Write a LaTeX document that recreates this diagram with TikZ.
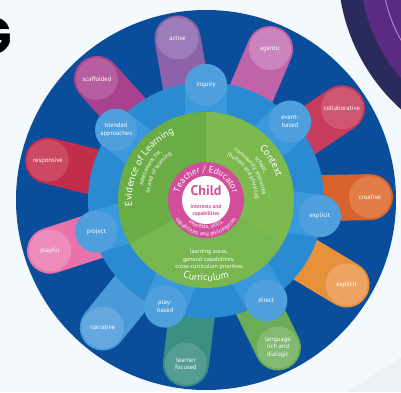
\documentclass[tikz,border=0pt]{standalone}
\usepackage{fontspec}
\setmainfont{PT Sans}
\newfontfamily\headfont{Poppins}
\usepackage{tikz}
\usetikzlibrary{positioning, decorations.text}
\definecolor{bgc}{HTML}{F4F9FD}
\definecolor{cornergray}{HTML}{EDF1F4}
\definecolor{navyc}{HTML}{2B2A5C}
\definecolor{purplec}{HTML}{5B2A82}
\definecolor{purplelt}{HTML}{B89ACF}
\definecolor{darkblue}{HTML}{0A4E9B}
\definecolor{ringblue}{HTML}{2A8BD3}
\definecolor{spokeblue}{HTML}{3A99DC}
\definecolor{innerblue}{HTML}{4E9FDC}
\definecolor{evidc}{HTML}{6BAD45}
\definecolor{ctxc}{HTML}{7CB94E}
\definecolor{currc}{HTML}{78B650}
\definecolor{pinkc}{HTML}{D24E9B}
\definecolor{activec}{HTML}{8D62A9}\definecolor{activelt}{HTML}{9C7DB9}
\definecolor{agenticc}{HTML}{C063A9}\definecolor{agenticlt}{HTML}{CC84BD}
\definecolor{collabc}{HTML}{C73B5C}\definecolor{collablt}{HTML}{CE566F}
\definecolor{creativec}{HTML}{D9622C}\definecolor{creativelt}{HTML}{E27D4A}
\definecolor{explicitc}{HTML}{E8913B}\definecolor{explicitlt}{HTML}{EDA462}
\definecolor{langc}{HTML}{6BAC57}\definecolor{langlt}{HTML}{82BA71}
\definecolor{learnerc}{HTML}{3A8E82}\definecolor{learnerlt}{HTML}{559C92}
\definecolor{narrc}{HTML}{4B9ADA}\definecolor{narrlt}{HTML}{64A8DF}
\definecolor{playfulc}{HTML}{E872A9}\definecolor{playfullt}{HTML}{EE8DBB}
\definecolor{respc}{HTML}{C22E4A}\definecolor{resplt}{HTML}{CB4A62}
\definecolor{scaffc}{HTML}{A8428E}\definecolor{scafflt}{HTML}{B65E9F}
\tikzset{petal/.style={line width=46pt, line cap=round}}
\tikzset{spoke/.style={draw=spokeblue, line width=42pt, line cap=round}}
\tikzset{lbl/.style={circle, minimum size=42pt, inner sep=0pt, text=white, align=center, font=\fontsize{6.5}{7.5}\selectfont}}
\tikzset{inlbl/.style={lbl, fill=innerblue}}
\tikzset{arctext/.style={decorate, decoration={text along path, text color=white, text align=center, text={#1}}}}

\begin{document}
\begin{tikzpicture}[x=1pt, y=1pt]
	\clip (-206,-192) rectangle (195,200);
	\fill[bgc] (-206,-192) rectangle (195,200);
	\fill[cornergray] (142,-192) -- (195,-157) -- (195,-192) -- cycle;
	\fill[navyc] (322,232) circle (190pt);
	\fill[purplec] (322,232) circle (168pt);
	\draw[purplelt, line width=0.8pt] (322,232) circle (146pt);
	\node[anchor=east, inner sep=0pt, font=\headfont\bfseries\fontsize{52}{52}\selectfont] (G) at (-194,163.5) {G};
	\fill[darkblue] (0,0) circle (190pt);

	\path (100:100) coordinate (activein) (100:164) coordinate (activeat);
	\draw[petal, activec] (activein) -- (activeat);
	\node[lbl, fill=activelt] (active) at (activeat) {active};
	\path (67:100) coordinate (agenticin) (67:164) coordinate (agenticat);
	\draw[petal, agenticc] (agenticin) -- (agenticat);
	\node[lbl, fill=agenticlt] (agentic) at (agenticat) {agentic};
	\path (34:100) coordinate (collabin) (34:164) coordinate (collabat);
	\draw[petal, collabc] (collabin) -- (collabat);
	\node[lbl, fill=collablt] (collab) at (collabat) {collaborative};
	\path (1:100) coordinate (creativein) (1:164) coordinate (creativeat);
	\draw[petal, creativec] (creativein) -- (creativeat);
	\node[lbl, fill=creativelt] (creative) at (creativeat) {creative};
	\path (-31:100) coordinate (explicitin) (-31:164) coordinate (explicitat);
	\draw[petal, explicitc] (explicitin) -- (explicitat);
	\node[lbl, fill=explicitlt] (explicit) at (explicitat) {explicit};
	\path (-64:100) coordinate (langin) (-64:164) coordinate (langat);
	\draw[petal, langc] (langin) -- (langat);
	\node[lbl, fill=langlt] (lang) at (langat) {language\\rich and\\dialogic};
	\path (-97:100) coordinate (learnerin) (-97:165) coordinate (learnerat);
	\draw[petal, learnerc] (learnerin) -- (learnerat);
	\node[lbl, fill=learnerlt] (learner) at (learnerat) {learner\\focused};
	\path (-129:100) coordinate (narrin) (-129:164) coordinate (narrat);
	\draw[petal, narrc] (narrin) -- (narrat);
	\node[lbl, fill=narrlt] (narr) at (narrat) {narrative};
	\path (198:100) coordinate (playfulin) (198:164) coordinate (playfulat);
	\draw[petal, playfulc] (playfulin) -- (playfulat);
	\node[lbl, fill=playfullt] (playful) at (playfulat) {playful};
	\path (166:100) coordinate (respin) (166:163) coordinate (respat);
	\draw[petal, respc] (respin) -- (respat);
	\node[lbl, fill=resplt] (resp) at (respat) {responsive};
	\path (132:100) coordinate (scaffin) (132:163) coordinate (scaffat);
	\draw[petal, scaffc] (scaffin) -- (scaffat);
	\node[lbl, fill=scafflt] (scaff) at (scaffat) {scaffolded};

	\fill[ringblue] (0,0) circle (118pt);
	\path (90:80) coordinate (inquiryin) (90:115) coordinate (inquiryat);
	\draw[spoke] (inquiryin) -- (inquiryat);
	\node[inlbl] (inquiry) at (inquiryat) {inquiry};
	\path (43:80) coordinate (eventin) (43:115) coordinate (eventat);
	\draw[spoke] (eventin) -- (eventat);
	\node[inlbl] (event) at (eventat) {event-\\based};
	\path (-8:80) coordinate (explin) (-8:115) coordinate (explat);
	\draw[spoke] (explin) -- (explat);
	\node[inlbl] (expl) at (explat) {explicit};
	\path (-59:80) coordinate (directin) (-59:117) coordinate (directat);
	\draw[spoke] (directin) -- (directat);
	\node[inlbl] (direct) at (directat) {direct};
	\path (-111:80) coordinate (playin) (-111:114) coordinate (playat);
	\draw[spoke] (playin) -- (playat);
	\node[inlbl] (play) at (playat) {play-\\based};
	\path (196:80) coordinate (projectin) (196:114) coordinate (projectat);
	\draw[spoke] (projectin) -- (projectat);
	\node[inlbl] (project) at (projectat) {project};
	\path (142:80) coordinate (blendedin) (142:114) coordinate (blendedat);
	\draw[spoke] (blendedin) -- (blendedat);
	\node[inlbl] (blended) at (blendedat) {blended\\approaches};

	\fill[evidc] (0,0) -- (90:88) arc (90:210:88pt) -- cycle;
	\fill[ctxc] (0,0) -- (-30:88) arc (-30:90:88pt) -- cycle;
	\fill[currc] (0,0) -- (210:88) arc (210:330:88pt) -- cycle;
	\fill[pinkc] (0,0) circle (38pt);
	\fill[white] (0,0) circle (24pt);

	\path[arctext={|\fontsize{10}{12}\selectfont|Evidence of Learning}] (195:74) arc (195:105:74pt);
	\path[arctext={|\fontsize{6}{7}\selectfont|assessment for,}] (190:65) arc (190:110:65pt);
	\path[arctext={|\fontsize{6}{7}\selectfont|as and of learning}] (190:57) arc (190:110:57pt);
	\path[arctext={|\fontsize{10}{12}\selectfont|Context}] (62:74) arc (62:0:74pt);
	\path[arctext={|\fontsize{6}{7}\selectfont|school,}] (75:64) arc (75:-10:64pt);
	\path[arctext={|\fontsize{6}{7}\selectfont|community resources}] (75:56.5) arc (75:-10:56.5pt);
	\path[arctext={|\fontsize{6}{7}\selectfont|(human and physical)}] (75:49) arc (75:-10:49pt);
	\path[arctext={|\fontsize{10}{12}\selectfont|Curriculum}] (235:81) arc (235:305:81pt);
	\node[text=white, align=center, font=\fontsize{6}{7.5}\selectfont] (currtxt) at (3,-59.5) {learning areas,\\general capabilities,\\cross-curriculum priorities};
	\path[arctext={|\fontsize{9}{11}\selectfont|Teacher / Educator}] (178:27.5) arc (178:2:27.5pt);
	\path[arctext={|\fontsize{5.8}{7}\selectfont|interests, skills,}] (200:28.8) arc (200:340:28.8pt);
	\path[arctext={|\fontsize{5.8}{7}\selectfont|capabilities and philosophies}] (190:36) arc (190:350:36pt);
	\node[text=pinkc, font=\fontsize{14}{14}\selectfont\bfseries] (child) at (0,9) {Child};
	\node[text=pinkc, align=center, font=\fontsize{5.5}{7}\selectfont\bfseries] (childtxt) at (0,-11) {interests and\\capabilities};
\end{tikzpicture}
\end{document}
